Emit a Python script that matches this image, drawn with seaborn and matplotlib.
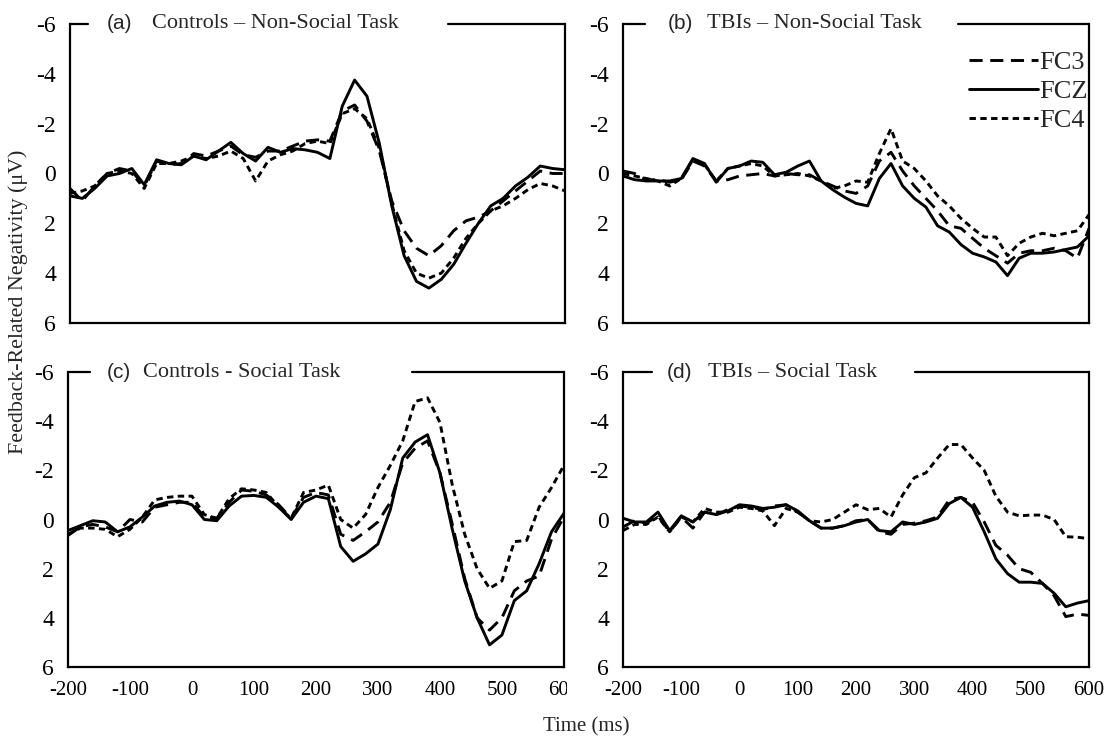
import matplotlib
matplotlib.use("Agg")
import matplotlib.pyplot as plt
from matplotlib.transforms import Bbox
import seaborn as sns
import pandas as pd

# ── data (µV, 20 ms steps) ──────────────────────────────────
time = list(range(-200, 601, 20))
channels = ["FC3", "FCZ", "FC4"]

fc3_a = [0.6, 1.1, 0.5, 0.0, -0.2, -0.1, 0.5, -0.5, -0.35, -0.4, -0.8, -0.7, -0.9, -1.1,
         -0.75, -0.65, -0.9, -0.9, -1.1, -1.3, -1.35, -1.3, -2.5, -2.75, -2.1, -0.9, 1.1,
         2.3, 3.0, 3.3, 2.9, 2.3, 1.9, 1.75, 1.5, 1.1, 0.7, 0.3, -0.1, 0.0, 0.0]
fcz_a = [0.9, 1.0, 0.6, 0.1, 0.0, -0.2, 0.45, -0.55, -0.4, -0.35, -0.7, -0.55, -0.9, -1.25,
         -0.8, -0.5, -1.05, -0.85, -1.0, -0.95, -0.85, -0.6, -2.7, -3.75, -3.1, -1.2, 1.3,
         3.3, 4.33, 4.6, 4.25, 3.65, 2.8, 2.0, 1.3, 1.0, 0.5, 0.15, -0.3, -0.2, -0.15]
fc4_a = [0.8, 0.7, 0.5, 0.0, -0.1, 0.0, 0.6, -0.4, -0.4, -0.5, -0.7, -0.6, -0.7, -0.9,
         -0.6, 0.3, -0.5, -0.75, -0.9, -1.2, -1.3, -1.2, -2.4, -2.6, -2.2, -1.0, 1.2,
         3.1, 4.0, 4.2, 4.0, 3.4, 2.6, 2.0, 1.5, 1.3, 1.0, 0.65, 0.4, 0.5, 0.7]

fc3_b = [-0.1, 0.0, 0.25, 0.25, 0.35, 0.25, -0.5, -0.3, 0.3, 0.25, 0.1, 0.05, 0.0, 0.1,
         0.0, 0.05, 0.05, 0.3, 0.5, 0.7, 0.8, 0.5, -0.5, -0.85, -0.1, 0.5, 1.0,
         1.5, 2.1, 2.2, 2.6, 3.0, 3.3, 3.6, 3.2, 3.1, 3.1, 3.0, 3.1, 3.4, 2.2]
fcz_b = [0.1, 0.25, 0.3, 0.3, 0.3, 0.2, -0.6, -0.4, 0.35, -0.2, -0.3, -0.5, -0.45, 0.05,
         -0.05, -0.3, -0.5, 0.3, 0.65, 0.95, 1.2, 1.3, 0.2, -0.4, 0.5, 1.0, 1.35,
         2.1, 2.35, 2.85, 3.2, 3.35, 3.55, 4.1, 3.4, 3.2, 3.2, 3.15, 3.05, 2.95, 2.5]
fc4_b = [0.0, 0.1, 0.2, 0.3, 0.5, 0.2, -0.55, -0.35, 0.3, -0.2, -0.3, -0.4, -0.3, 0.1,
         0.05, 0.0, 0.1, 0.3, 0.6, 0.5, 0.3, 0.35, -0.8, -1.8, -0.5, -0.2, 0.3,
         0.9, 1.3, 1.8, 2.2, 2.55, 2.55, 3.3, 2.8, 2.55, 2.4, 2.5, 2.4, 2.3, 1.65]

fc3_c = [0.65, 0.3, 0.2, 0.3, 0.5, 0.0, 0.1, -0.5, -0.6, -0.7, -0.7, -0.1, -0.05, -0.7,
         -1.2, -1.15, -1.0, -0.6, -0.05, -0.9, -1.1, -1.0, 0.6, 0.85, 0.5, 0.1, -0.7,
         -2.3, -2.9, -3.2, -1.9, 0.2, 2.4, 4.0, 4.5, 4.0, 2.9, 2.5, 2.3, 0.8, -0.1]
fcz_c = [0.45, 0.25, 0.05, 0.1, 0.5, 0.3, -0.1, -0.55, -0.7, -0.75, -0.6, 0.0, 0.05, -0.55,
         -0.95, -0.98, -0.9, -0.5, 0.0, -0.7, -0.95, -0.85, 1.1, 1.7, 1.4, 1.0, -0.4,
         -2.5, -3.15, -3.45, -1.9, 0.4, 2.5, 4.0, 5.1, 4.7, 3.3, 2.9, 1.8, 0.5, -0.25]
fc4_c = [0.6, 0.35, 0.35, 0.4, 0.7, 0.4, -0.1, -0.8, -0.9, -0.95, -0.95, -0.2, -0.05, -0.85,
         -1.25, -1.2, -1.1, -0.5, -0.05, -1.1, -1.2, -1.4, 0.0, 0.35, -0.2, -1.3, -2.2,
         -3.2, -4.8, -4.95, -3.95, -1.4, 0.6, 2.0, 2.8, 2.5, 0.9, 0.85, -0.5, -1.3, -2.2]

fc3_d = [0.3, 0.05, 0.15, -0.15, 0.5, -0.1, 0.35, -0.3, -0.2, -0.4, -0.55, -0.5, -0.4, -0.55,
         -0.6, -0.3, 0.05, 0.35, 0.35, 0.25, 0.05, 0.0, 0.5, 0.6, 0.2, 0.15, 0.05,
         -0.1, -0.8, -0.9, -0.7, 0.1, 1.05, 1.45, 2.0, 2.15, 2.6, 3.1, 3.95, 3.85, 3.9]
fcz_d = [-0.05, 0.1, 0.1, -0.3, 0.45, -0.15, 0.1, -0.3, -0.2, -0.35, -0.6, -0.55, -0.45, -0.5,
         -0.6, -0.35, 0.05, 0.35, 0.35, 0.25, 0.1, 0.0, 0.45, 0.5, 0.1, 0.2, 0.1,
         -0.05, -0.65, -0.9, -0.5, 0.5, 1.6, 2.2, 2.55, 2.55, 2.6, 3.0, 3.55, 3.4, 3.3]
fc4_d = [0.45, 0.2, 0.2, -0.1, 0.5, -0.1, 0.1, -0.45, -0.3, -0.3, -0.5, -0.45, -0.35, 0.25,
         -0.45, -0.3, 0.05, 0.1, 0.0, -0.3, -0.6, -0.4, -0.45, -0.1, -1.0, -1.7, -1.9,
         -2.5, -3.05, -3.05, -2.5, -2.0, -0.95, -0.3, -0.15, -0.18, -0.18, 0.0, 0.7, 0.72, 0.78]

panel_tags = ["(a)", "(b)", "(c)", "(d)"]
panel_titles = ["Controls – Non-Social Task", "TBIs – Non-Social Task",
                "Controls - Social Task", "TBIs – Social Task"]
panel_data = [(fc3_a, fcz_a, fc4_a), (fc3_b, fcz_b, fc4_b),
              (fc3_c, fcz_c, fc4_c), (fc3_d, fcz_d, fc4_d)]
y_ticks = [-6, -4, -2, 0, 2, 4, 6]
x_ticks = [-200, -100, 0, 100, 200, 300, 400, 500, 600]

# ── style ───────────────────────────────────────────────────
sns.set_style("white")
plt.rcParams["font.family"] = ["Liberation Serif", "DejaVu Serif"]
plt.rcParams["axes.unicode_minus"] = False

fig = plt.figure(figsize=(11.07, 7.43), dpi=100)

# axes boxes [left, bottom, width, height] and the gap in the top frame
boxes = [[0.0632, 0.5653, 0.4472, 0.4024], [0.5628, 0.5653, 0.4210, 0.4024],
         [0.0614, 0.1023, 0.4480, 0.3970], [0.5628, 0.1023, 0.4210, 0.3970]]
gaps = [(0.036, 0.764), (0.047, 0.719), (0.044, 0.694), (0.062, 0.627)]
tag_x = [0.075, 0.097, 0.079, 0.094]
title_x = [0.166, 0.180, 0.151, 0.182]
dash_map = {"FC3": (4.5, 2.6), "FCZ": "", "FC4": (2.2, 1.5)}

for i in range(4):
    ax = fig.add_axes(boxes[i])
    fc3, fcz, fc4 = panel_data[i]
    df = pd.DataFrame({
        "Time": time * 3,
        "Amp": fc3 + fcz + fc4,
        "Channel": ["FC3"] * len(time) + ["FCZ"] * len(time) + ["FC4"] * len(time),
    })
    sns.lineplot(data=df, x="Time", y="Amp", style="Channel", style_order=channels,
                 dashes=dash_map, color="black", linewidth=2.1, errorbar=None,
                 legend=False, ax=ax)

    ax.set_xlim(-200, 600)
    ax.set_ylim(6, -6)
    ax.set_yticks(y_ticks)
    ax.set_yticklabels([str(v) for v in y_ticks])
    ax.set_xlabel("")
    ax.set_ylabel("")
    ax.tick_params(length=0, pad=10, colors="black")
    ax.tick_params(axis="y", labelsize=17)
    ax.tick_params(axis="x", labelsize=15)
    if i < 2:
        ax.set_xticks([])
    else:
        ax.set_xticks(x_ticks)
        ax.set_xticklabels([str(v) for v in x_ticks])

    for side in ["left", "right", "bottom"]:
        ax.spines[side].set_visible(True)
        ax.spines[side].set_color("black")
        ax.spines[side].set_linewidth(1.6)
    ax.spines["top"].set_visible(False)
    g0, g1 = gaps[i]
    ax.axhline(-6, xmin=0, xmax=g0, color="black", lw=1.6, clip_on=False)
    ax.axhline(-6, xmin=g1, xmax=1, color="black", lw=1.6, clip_on=False)

    ax.text(tag_x[i], 1.0, panel_tags[i], transform=ax.transAxes, fontsize=15,
            family="Liberation Sans", va="center", ha="left")
    ax.text(title_x[i], 1.0, panel_titles[i], transform=ax.transAxes, fontsize=16,
            va="center", ha="left")

    if i == 1:
        ax.legend(ax.lines[:3], channels, loc="upper right", frameon=False,
                  bbox_to_anchor=(0.997, 0.91), borderaxespad=0, borderpad=0,
                  fontsize=19, handlelength=2.6, handletextpad=0.05,
                  labelspacing=0.2)
    if i == 2:
        c_ax = ax

fig.text(0.016, 0.594, "Feedback-Related Negativity (μV)", rotation=90,
         fontsize=15.8, va="center", ha="center")
fig.text(0.53, 0.0215, "Time (ms)", fontsize=15, va="center", ha="center")

# the last tick label of panel (c) is cut off in the original
fig.canvas.draw()
last = c_ax.get_xticklabels()[-1]
last.set_clip_box(Bbox.from_extents(0, 0, 567, 743))
last.set_clip_on(True)

plt.savefig("out.png", dpi=100)
plt.close()
